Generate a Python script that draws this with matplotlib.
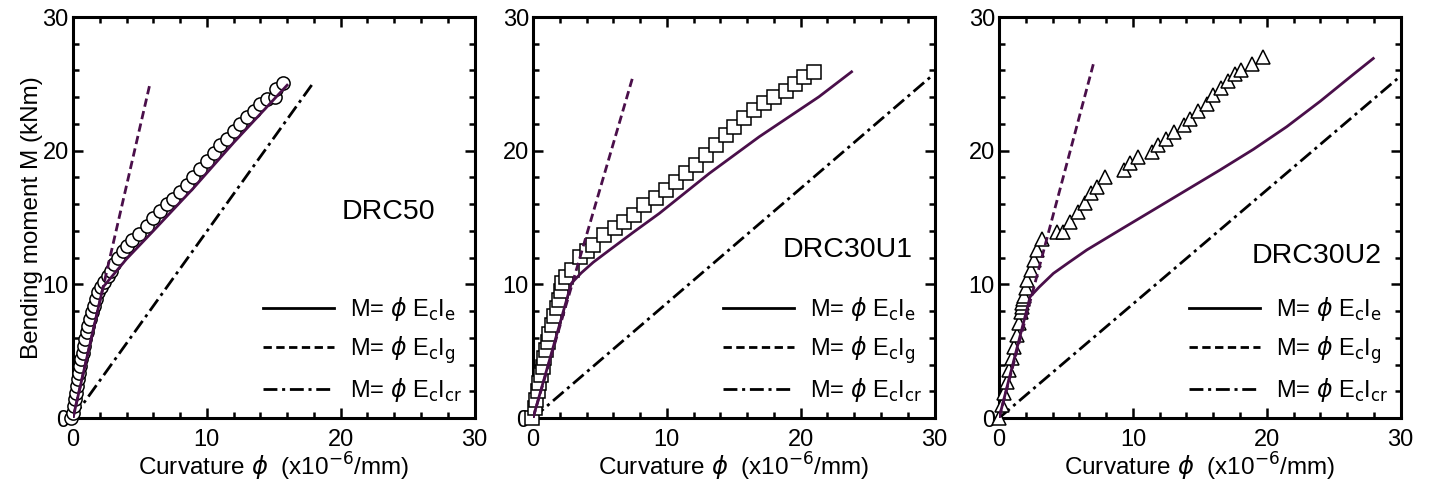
import numpy as np
import matplotlib
matplotlib.use("Agg")
import matplotlib.pyplot as plt
from matplotlib.lines import Line2D

plt.rcParams['font.family'] = ['Liberation Sans', 'DejaVu Sans']
plt.rcParams['mathtext.fontset'] = 'dejavusans'

# measured moment-curvature points (curvature x1e-6/mm, moment kNm)
drc50_phi = [-0.15, 0.02, 0.10, 0.18, 0.24, 0.30, 0.35, 0.42, 0.52, 0.62, 0.72, 0.83,
             0.93, 1.03, 1.14, 1.28, 1.42, 1.56, 1.72, 1.90, 2.10, 2.35, 2.60, 2.85,
             3.10, 3.40, 3.70, 4.00, 4.40, 4.90, 5.50, 6.00, 6.50, 7.00, 7.50, 8.00,
             8.50, 9.00, 9.50, 10.0, 10.5, 11.0, 11.5, 12.0, 12.5, 13.0, 13.5, 14.0,
             14.5, 15.1, 15.2, 15.7]
drc50_m = [0.0, 0.4, 0.9, 1.4, 1.9, 2.4, 2.9, 3.4, 3.9, 4.4, 4.9, 5.4,
           5.9, 6.4, 6.9, 7.4, 7.9, 8.4, 8.9, 9.4, 9.8, 10.2, 10.6, 11.0,
           11.5, 12.0, 12.5, 12.9, 13.3, 13.8, 14.4, 15.0, 15.5, 16.0, 16.4, 16.9,
           17.4, 18.0, 18.6, 19.2, 19.8, 20.4, 20.9, 21.5, 22.0, 22.5, 23.0, 23.5,
           23.9, 24.0, 24.6, 25.1]

drc30u1_phi = [-0.05, 0.12, 0.22, 0.35, 0.47, 0.60, 0.72, 0.85, 0.97, 1.10, 1.22, 1.40,
               1.59, 1.78, 1.96, 2.10, 2.20, 2.49, 2.90, 3.48, 4.00, 4.47, 5.34, 6.09,
               6.83, 7.58, 8.32, 9.19, 9.94, 10.69, 11.43, 12.18, 12.92, 13.67, 14.41,
               15.03, 15.78, 16.52, 17.27, 18.0, 18.9, 19.6, 20.25, 21.0]
drc30u1_m = [0.0, 0.75, 1.35, 2.0, 2.6, 3.2, 3.84, 4.5, 5.1, 5.7, 6.3, 6.95,
             7.6, 8.2, 8.8, 9.5, 10.1, 10.57, 11.1, 12.06, 12.5, 12.94, 13.69, 14.19,
             14.68, 15.18, 15.93, 16.43, 17.05, 17.68, 18.3, 18.92, 19.67, 20.42, 21.17,
             21.79, 22.42, 23.04, 23.54, 24.03, 24.5, 25.0, 25.5, 25.9]

drc30u2_phi = [0.00, 0.25, 0.37, 0.62, 0.75, 1.00, 1.12, 1.37, 1.49, 1.62, 1.68, 1.74,
               1.80, 1.87, 2.00, 2.11, 2.37, 2.61, 2.86, 3.23, 4.35, 4.80, 5.30, 5.90,
               6.40, 6.90, 7.30, 7.90, 9.30, 9.80, 10.4, 11.4, 11.9, 12.5, 13.1, 13.8,
               14.3, 14.9, 15.5, 16.0, 16.6, 17.1, 17.6, 18.1, 18.9, 19.75]
drc30u2_m = [0.0, 0.97, 1.85, 2.7, 3.6, 4.46, 5.3, 6.2, 7.1, 7.95, 8.3, 8.6,
             8.9, 9.1, 9.7, 10.3, 11.1, 11.8, 12.6, 13.4, 13.9, 13.95, 14.7, 15.4,
             16.05, 16.8, 17.3, 18.05, 18.55, 19.05, 19.5, 19.9, 20.4, 20.9, 21.4, 21.9,
             22.4, 23.0, 23.5, 24.2, 24.7, 25.2, 25.7, 26.0, 26.5, 27.0]

# predictions: effective, gross and cracked section stiffness
drc50_ie_phi = [0.0, 2.25, 3.0, 4.0, 6.0, 9.0, 12.0, 16.0]
drc50_ie_m = [0.0, 9.8, 10.7, 11.9, 14.0, 17.2, 20.6, 24.9]
drc50_ig_phi = [0.0, 5.75]
drc50_ig_m = [0.0, 25.0]
drc50_icr_phi = [0.0, 17.9]
drc50_icr_m = [0.0, 25.0]

drc30u1_ie_phi = [0.0, 2.86, 3.6, 4.5, 5.72, 7.5, 9.44, 13.17, 16.9, 21.36, 23.8]
drc30u1_ie_m = [0.0, 10.07, 10.85, 11.65, 12.57, 13.9, 15.31, 18.3, 21.04, 24.03, 25.9]
drc30u1_ig_phi = [0.0, 7.45]
drc30u1_ig_m = [0.0, 25.5]
drc30u1_icr_phi = [0.0, 29.8]
drc30u1_icr_m = [0.0, 25.6]

drc30u2_ie_phi = [0.0, 2.32, 3.0, 4.06, 5.2, 6.55, 9.0, 11.52, 14.0, 16.5, 19.0,
                  21.49, 24.0, 26.46, 27.96]
drc30u2_ie_m = [0.0, 9.07, 9.8, 10.82, 11.63, 12.57, 14.05, 15.56, 17.05, 18.55, 20.1,
                21.79, 23.7, 25.7, 26.9]
drc30u2_ig_phi = [0.0, 7.05]
drc30u2_ig_m = [0.0, 26.5]
drc30u2_icr_phi = [0.0, 29.9]
drc30u2_icr_m = [0.0, 25.5]

specimens = ['DRC50', 'DRC30U1', 'DRC30U2']
markers = ['o', 's', '^']
marker_sizes = [9.5, 10, 10.5]
name_pos = [(27.1, 15.4), (28.4, 12.6), (28.55, 12.1)]

tests = [(drc50_phi, drc50_m), (drc30u1_phi, drc30u1_m), (drc30u2_phi, drc30u2_m)]
ie = [(drc50_ie_phi, drc50_ie_m), (drc30u1_ie_phi, drc30u1_ie_m), (drc30u2_ie_phi, drc30u2_ie_m)]
ig = [(drc50_ig_phi, drc50_ig_m), (drc30u1_ig_phi, drc30u1_ig_m), (drc30u2_ig_phi, drc30u2_ig_m)]
icr = [(drc50_icr_phi, drc50_icr_m), (drc30u1_icr_phi, drc30u1_icr_m),
       (drc30u2_icr_phi, drc30u2_icr_m)]

purple = '#4a0f4a'
dashdot = (0, (5.0, 1.7, 1.1, 1.7))
dashed = (0, (3.0, 1.6))

fig = plt.figure(figsize=(14.34, 4.86), dpi=100)
lefts = [0.0509, 0.3717, 0.6967]

for k in range(3):
    ax = fig.add_axes([lefts[k], 0.1399, 0.2800, 0.8251])

    ax.plot(icr[k][0], icr[k][1], color='black', lw=2, linestyle=dashdot, zorder=2)
    ax.plot(tests[k][0], tests[k][1], linestyle='none', marker=markers[k],
            ms=marker_sizes[k], mfc='white', mec='black', mew=1.1, zorder=3,
            clip_on=False)
    ax.plot(ie[k][0], ie[k][1], color=purple, lw=2, zorder=4)
    ax.plot(ig[k][0], ig[k][1], color=purple, lw=2, linestyle=dashed, zorder=4)

    ax.text(name_pos[k][0], name_pos[k][1], specimens[k], ha='right', va='center',
            fontsize=20.5)

    handles = [Line2D([], [], color='black', lw=2),
               Line2D([], [], color='black', lw=2, linestyle=dashed),
               Line2D([], [], color='black', lw=2, linestyle=dashdot)]
    labels = [r'M= $\phi$ E$_{\mathrm{c}}$I$_{\mathrm{e}}$',
              r'M= $\phi$ E$_{\mathrm{c}}$I$_{\mathrm{g}}$',
              r'M= $\phi$ E$_{\mathrm{c}}$I$_{\mathrm{cr}}$']
    ax.legend(handles, labels, loc='lower right', bbox_to_anchor=(1.0, 0.005),
              frameon=False, fontsize=17, handlelength=3.0, handletextpad=0.7,
              labelspacing=0.45, borderaxespad=0.3, borderpad=0.2)

    ax.set_xlim(0, 30)
    ax.set_ylim(0, 30)
    ax.set_xticks([0, 10, 20, 30])
    ax.set_yticks([0, 10, 20, 30])
    ax.set_xticks(np.arange(0, 31, 2), minor=True)
    ax.set_yticks(np.arange(0, 31, 2), minor=True)
    ax.tick_params(which='both', direction='in', top=True, right=True, width=1.8,
                   labelsize=17)
    ax.tick_params(axis='x', which='both', pad=8)
    ax.tick_params(axis='y', which='both', pad=3)
    ax.tick_params(which='major', length=7)
    ax.tick_params(which='minor', length=4)
    for s in ax.spines.values():
        s.set_linewidth(2.2)
    ax.set_xlabel(r'Curvature $\phi$  (x10$^{-6}$/mm)', fontsize=17.5, labelpad=0)
    if k == 0:
        ax.set_ylabel('Bending moment M (kNm)', fontsize=17.5, labelpad=0)

fig.savefig('out.png', dpi=100)
